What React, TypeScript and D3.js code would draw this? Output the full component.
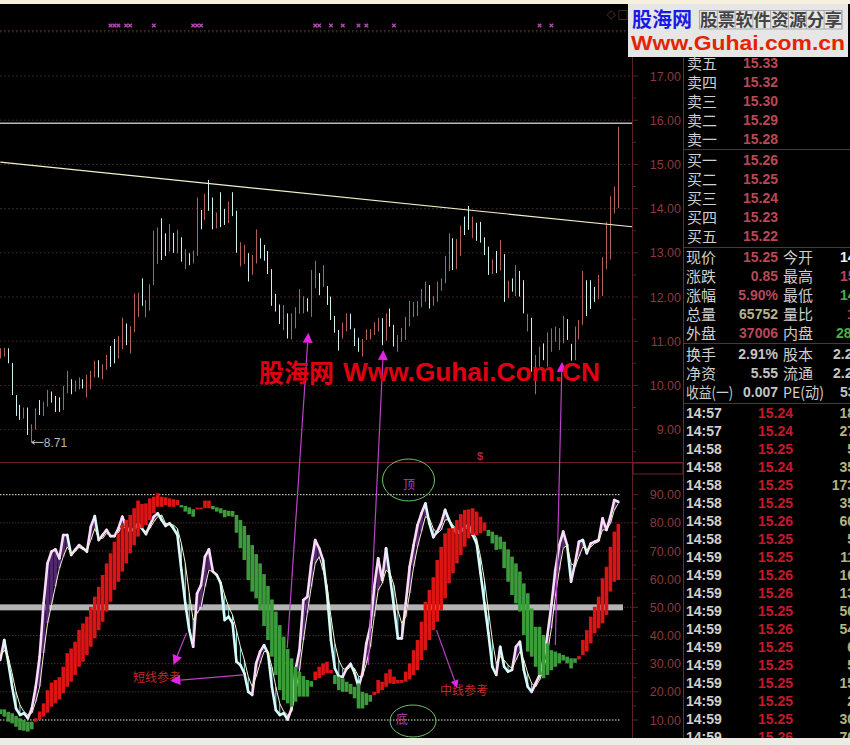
import { useEffect, useRef } from 'react';
import * as d3 from 'd3';

// Price panel, one entry per session
const candleHigh = [
  10.84, 10.85, 10.84, 10.51, 9.78, 9.56, 9.5, 9.5, 9.12, 9.48,
  9.67, 9.63, 9.9, 9.86, 9.76, 9.73, 9.99, 10.33, 10.14, 10.11,
  10.18, 10.14, 10.24, 10.33, 10.56, 10.57, 10.48, 10.69, 10.89, 11.05,
  11.12, 11.53, 11.4, 11.34, 12.08, 12.1, 12.42, 11.93, 12.29, 13.5,
  13.57, 13.78, 13.44, 13.65, 13.45, 13.52, 13.35, 13.08, 12.99, 13.05,
  14.25, 13.97, 14.33, 14.65, 14.25, 13.91, 14.37, 13.99, 14.16, 14.37,
  13.95, 13.24, 13.18, 12.99, 12.95, 13.53, 13.33, 13.18, 13.04, 12.63,
  12.07, 11.83, 11.82, 11.63, 11.63, 11.77, 12.18, 12.02, 11.97, 12.61,
  12.82, 12.54, 12.72, 12.25, 12.01, 11.57, 11.25, 11.42, 11.63, 11.62,
  11.29, 11.08, 11.05, 11.27, 11.27, 11.43, 11.53, 11.52, 11.63, 11.74,
  11.37, 11.14, 11.3, 11.55, 11.91, 11.89, 11.91, 12.18, 12.35, 12.27,
  12.02, 12.35, 12.42, 12.93, 13.44, 13.33, 13.31, 13.61, 13.82, 14.06,
  13.82, 13.68, 13.7, 13.35, 13.14, 12.85, 13.04, 13.29, 12.97, 12.37,
  12.42, 12.72, 12.59, 12.38, 11.62, 11.53, 10.69, 10.88, 10.95, 11.2,
  11.29, 11.33, 11.3, 11.57, 11.5, 10.94, 11.33, 11.48, 12.59, 12.38,
  12.38, 12.23, 12.5, 12.9, 13.7, 14.28, 14.5, 15.85,
];
const candleLow = [
  10.61, 10.65, 10.5, 9.78, 9.31, 9.22, 9.25, 8.88, 8.71, 9.0,
  9.33, 9.31, 9.52, 9.61, 9.4, 9.4, 9.44, 9.82, 9.8, 9.86,
  9.91, 9.93, 9.73, 9.91, 10.18, 10.18, 10.14, 10.35, 10.42, 10.5,
  10.61, 10.82, 10.91, 10.72, 11.2, 11.55, 11.8, 11.54, 11.69, 12.27,
  12.75, 12.84, 12.93, 13.03, 13.0, 12.99, 12.8, 12.63, 12.72, 12.76,
  12.93, 13.53, 13.74, 13.95, 13.53, 13.55, 13.58, 13.63, 13.67, 13.83,
  13.0, 12.69, 12.75, 12.35, 12.5, 12.76, 12.87, 12.82, 12.52, 11.8,
  11.67, 11.39, 11.25, 11.06, 11.04, 11.29, 11.62, 11.63, 11.67, 11.55,
  12.2, 12.04, 12.23, 11.82, 11.48, 11.19, 10.79, 11.06, 11.22, 11.27,
  10.89, 10.76, 10.65, 11.03, 11.04, 11.14, 11.22, 10.91, 11.01, 11.33,
  10.88, 10.76, 10.99, 11.03, 11.34, 11.55, 11.57, 11.77, 11.89, 11.74,
  11.8, 11.89, 12.14, 12.31, 12.59, 12.61, 12.63, 12.93, 13.4, 13.52,
  13.33, 13.27, 13.23, 12.95, 12.5, 12.52, 12.54, 12.6, 11.89, 11.97,
  12.12, 12.02, 12.01, 11.63, 11.22, 10.31, 9.8, 10.42, 10.57, 10.42,
  10.76, 10.99, 10.8, 10.95, 11.03, 10.56, 10.57, 11.04, 11.37, 11.57,
  11.73, 11.89, 11.95, 12.02, 12.63, 12.85, 13.89, 14.01,
];
const candleUp = [
  1, 1, 0, 0, 0, 0, 1, 0, 1, 1, 0, 1, 1, 0, 0, 0, 1, 1, 0, 1,
  1, 0, 1, 1, 1, 0, 1, 1, 0, 0, 1, 1, 0, 1, 1, 1, 0, 1, 1, 1,
  1, 0, 0, 1, 0, 1, 0, 1, 0, 1, 1, 0, 1, 0, 0, 1, 0, 0, 1, 0,
  0, 1, 1, 0, 1, 1, 0, 0, 0, 0, 0, 0, 1, 0, 1, 1, 1, 1, 0, 1,
  1, 0, 1, 0, 0, 0, 0, 1, 1, 0, 0, 0, 1, 1, 1, 1, 1, 0, 1, 0,
  0, 1, 1, 1, 1, 1, 1, 1, 1, 0, 1, 1, 1, 1, 1, 0, 1, 1, 0, 0,
  1, 0, 0, 0, 0, 1, 0, 1, 0, 1, 0, 1, 0, 0, 1, 0, 1, 1, 0, 1,
  1, 1, 1, 1, 0, 0, 1, 1, 1, 0, 0, 0, 1, 1, 1, 1, 1, 1,
];
const signalMarks = [28, 29, 30, 32, 33, 39, 49, 50, 51, 80, 81, 84, 87, 91, 93, 100, 137, 140];
const priceTicks = [17, 16, 15, 14, 13, 12, 11, 10, 9];
const priceMinorTicks = [17.5, 16.5, 15.5, 14.5, 13.5, 12.5, 11.5, 10.5, 9.5, 8.5];
const priceGrid = [18, 17, 16, 15, 14, 13, 12, 11, 10, 9];
const resistanceLevel = 15.93;
const trendLine = [[0, 15.05], [160.5, 13.59]];

// Oscillator panel
const bandTop = [
  13.8, 13.8, 12.9, 12.4, 11.4, 10.6, 10.0, 9.4, 9.4, 10.6,
  13.0, 15.9, 20.6, 23.3, 24.2, 25.2, 28.9, 33.7, 35.4, 37.8,
  42.0, 44.3, 46.7, 50.2, 53.8, 57.3, 61.5, 65.6, 69.2, 73.3,
  76.3, 79.2, 81.0, 82.8, 85.2, 87.9, 86.7, 86.9, 88.7, 89.3,
  90.5, 89.3, 89.1, 88.7, 88.4, 88.1, 86.3, 86.0, 85.5, 84.8,
  85.4, 85.4, 87.9, 87.9, 86.0, 85.5, 85.2, 84.6, 84.3, 84.2,
  82.8, 81.0, 78.9, 75.7, 72.1, 68.9, 65.6, 61.8, 57.6, 52.8,
  48.5, 43.7, 39.6, 35.2, 31.9, 28.9, 27.1, 25.6, 24.2, 23.8,
  27.2, 28.9, 30.1, 30.7, 27.8, 26.0, 25.4, 24.8, 23.6, 22.8,
  21.8, 23.0, 20.0, 19.5, 18.9, 20.0, 24.2, 23.6, 26.6, 28.0,
  25.4, 24.2, 24.2, 27.2, 30.1, 34.8, 38.4, 44.9, 52.0, 56.2,
  60.7, 66.8, 71.5, 76.3, 78.1, 78.1, 81.0, 83.1, 84.6, 84.8,
  85.2, 84.0, 82.2, 80.1, 77.5, 76.9, 75.7, 75.1, 73.3, 70.6,
  68.0, 65.6, 62.7, 58.5, 55.0, 49.6, 43.1, 43.1, 40.2, 37.2,
  34.8, 34.3, 33.7, 33.1, 32.5, 31.9, 31.9, 32.7, 38.4, 41.9,
  46.7, 50.2, 53.8, 60.3, 64.4, 71.5, 76.9, 79.6,
];
const bandBottom = [
  12.1, 11.2, 9.4, 8.8, 7.6, 6.4, 6.2, 5.9, 6.7, 9.4,
  10.0, 11.2, 12.6, 14.7, 15.9, 17.3, 19.5, 21.8, 23.6, 26.0,
  28.9, 30.7, 33.1, 36.0, 39.0, 41.9, 44.9, 48.5, 52.0, 56.2,
  59.1, 62.7, 65.6, 69.2, 72.1, 75.1, 78.1, 79.2, 81.0, 83.4,
  85.7, 85.7, 86.3, 85.7, 85.7, 86.3, 85.5, 84.0, 83.1, 82.2,
  84.8, 84.8, 85.2, 85.2, 84.8, 84.0, 83.4, 82.0, 82.4, 82.2,
  76.5, 71.0, 66.8, 59.7, 55.6, 53.2, 49.0, 43.4, 38.4, 32.5,
  26.0, 20.6, 17.1, 15.9, 14.7, 16.5, 18.3, 18.3, 18.3, 21.8,
  24.2, 24.8, 26.0, 26.6, 26.6, 22.8, 20.6, 20.0, 20.0, 19.2,
  17.7, 14.1, 14.1, 15.3, 16.5, 18.9, 19.5, 20.6, 21.8, 23.0,
  22.8, 23.0, 23.2, 23.6, 24.4, 26.0, 27.7, 31.3, 34.8, 38.4,
  41.9, 44.9, 49.0, 53.2, 58.5, 62.1, 65.6, 68.6, 71.5, 74.5,
  75.7, 75.7, 76.3, 77.2, 75.3, 72.7, 70.4, 70.6, 63.9, 59.1,
  54.4, 51.4, 48.5, 40.2, 34.3, 32.5, 28.9, 26.0, 24.8, 26.0,
  27.7, 28.9, 30.1, 31.1, 30.1, 28.3, 30.3, 31.5, 33.1, 34.3,
  37.2, 40.8, 42.5, 44.3, 47.3, 55.6, 59.1, 59.7,
];
const bandRedRuns = [[9, 45], [50, 53], [80, 84], [95, 123], [147, 157]];
const fastLine = [
  31.3, 38.4, 30.7, 21.8, 14.1, 11.8, 12.4, 10.6, 14.1, 21.8,
  32.5, 51.4, 65.6, 69.8, 70.6, 67.4, 75.7, 75.7, 68.6, 70.4,
  72.1, 71.0, 69.8, 78.6, 82.4, 73.9, 75.7, 77.5, 75.3, 75.3,
  78.0, 82.2, 78.6, 76.9, 78.0, 79.8, 78.0, 76.0, 79.2, 82.2,
  83.4, 81.0, 78.9, 79.8, 78.0, 75.7, 63.2, 51.4, 41.9, 36.0,
  55.0, 57.9, 68.0, 70.6, 62.7, 61.5, 58.5, 45.5, 46.7, 44.3,
  30.7, 29.5, 26.6, 20.0, 18.9, 30.1, 34.3, 36.6, 33.7, 21.8,
  13.5, 11.8, 12.4, 10.2, 14.1, 27.8, 34.8, 52.6, 53.8, 65.6,
  73.9, 71.0, 66.8, 55.0, 38.4, 28.3, 25.4, 25.4, 28.3, 29.9,
  26.6, 21.8, 26.6, 37.2, 43.1, 57.3, 67.4, 59.7, 71.0, 60.9,
  50.2, 39.0, 39.0, 51.4, 64.4, 72.1, 79.2, 83.4, 86.9, 79.8,
  74.9, 76.9, 79.8, 84.6, 81.0, 78.0, 76.3, 76.9, 78.6, 79.2,
  75.7, 72.7, 62.1, 51.4, 40.8, 28.9, 26.0, 36.0, 28.9, 27.2,
  27.8, 36.0, 37.8, 27.8, 21.8, 20.0, 23.0, 26.0, 31.3, 40.2,
  50.8, 63.2, 72.1, 76.9, 72.1, 59.1, 65.6, 73.3, 73.9, 69.2,
  72.7, 73.3, 73.9, 81.6, 77.5, 82.2, 88.1, 87.5,
];
const slowLine = [
  32.5, 34.8, 32.5, 26.6, 20.0, 15.3, 13.0, 11.8, 12.4, 16.5,
  21.8, 33.7, 44.3, 50.8, 57.4, 63.8, 68.0, 71.5, 69.2, 69.8,
  71.3, 70.6, 70.1, 73.9, 78.0, 74.5, 74.5, 76.3, 75.3, 75.3,
  76.5, 79.2, 77.7, 76.9, 77.7, 78.6, 78.0, 76.9, 78.0, 80.4,
  82.2, 82.8, 79.8, 79.8, 79.2, 78.0, 72.7, 65.6, 55.0, 45.5,
  47.9, 50.2, 57.3, 63.2, 62.7, 61.5, 59.1, 54.4, 50.2, 47.3,
  41.9, 36.0, 31.3, 25.4, 21.8, 25.4, 30.1, 34.3, 34.3, 28.9,
  21.8, 15.9, 13.0, 11.8, 13.0, 19.5, 27.8, 38.4, 47.9, 57.3,
  65.6, 68.0, 63.2, 57.9, 46.7, 37.2, 31.3, 28.3, 27.8, 28.9,
  28.3, 25.4, 25.4, 30.1, 36.0, 46.7, 56.1, 58.5, 63.2, 62.1,
  57.9, 49.0, 44.3, 46.7, 55.0, 64.4, 71.5, 76.9, 82.2, 81.6,
  78.0, 76.3, 77.5, 81.0, 81.2, 79.2, 77.5, 76.9, 77.7, 78.6,
  76.9, 74.5, 68.0, 59.7, 49.0, 38.4, 30.1, 32.5, 31.3, 29.5,
  28.3, 31.3, 34.3, 31.3, 26.6, 23.0, 21.8, 24.2, 27.8, 33.7,
  42.5, 53.8, 63.2, 71.0, 72.1, 65.6, 64.4, 68.0, 71.5, 70.4,
  71.5, 72.7, 73.3, 77.5, 77.5, 79.8, 84.6, 86.9,
];
const oscTicks = [90, 80, 70, 60, 50, 40, 30, 20, 10];
const oscMinorTicks = [85, 75, 65, 55, 45, 35, 25, 15];

// Arrows: index on the x scale, value on the panel named
const arrows = [
  { from: [47.3, 40.9], to: [44, 29.5], fromPanel: 'osc', toPanel: 'osc', head: 10 },
  { from: [61.7, 26], to: [43.2, 23.9], fromPanel: 'osc', toPanel: 'osc', head: 10 },
  { from: [110.8, 41.9], to: [116.1, 21.3], fromPanel: 'osc', toPanel: 'osc', head: 8 },
  { from: [72.9, 35.6], to: [78.25, 11.19], fromPanel: 'osc', toPanel: 'price', head: 10 },
  { from: [93.5, 29.5], to: [97.3, 10.8], fromPanel: 'osc', toPanel: 'price', head: 10 },
  { from: [141, 36.6], to: [142.7, 10.53], fromPanel: 'osc', toPanel: 'price', head: 10 },
];

// Quote panel
const askLabels = ['卖五', '卖四', '卖三', '卖二', '卖一'];
const askPrices = ['15.33', '15.32', '15.30', '15.29', '15.28'];
const bidLabels = ['买一', '买二', '买三', '买四', '买五'];
const bidPrices = ['15.26', '15.25', '15.24', '15.23', '15.22'];
const statLabels = ['现价', '涨跌', '涨幅', '总量', '外盘'];
const statValues = ['15.25', '0.85', '5.90%', '65752', '37006'];
const statColors = ['#b84858', '#b84858', '#b84858', '#b4b490', '#b84858'];
const statLabels2 = ['今开', '最高', '最低', '量比', '内盘'];
const statValues2 = ['14', '15', '14', '1', '28'];
const statColors2 = ['#f0f0f0', '#b84858', '#48b048', '#b84858', '#48b048'];
const statStarts2 = [840, 840, 840, 847, 836];
const fundLabels = ['换手', '净资', '收益(一)'];
const fundValues = ['2.91%', '5.55', '0.007'];
const fundLabels2 = ['股本', '流通', 'PE(动)'];
const fundValues2 = ['2.2', '2.2', '53'];
const fundStarts2 = [833, 833, 840];
const tickTimes = [
  '14:57', '14:57', '14:58', '14:58', '14:58', '14:58', '14:58', '14:58', '14:59', '14:59',
  '14:59', '14:59', '14:59', '14:59', '14:59', '14:59', '14:59', '14:59', '14:59',
];
const tickPrices = [
  '15.24', '15.24', '15.25', '15.24', '15.25', '15.25', '15.26', '15.25', '15.25', '15.26',
  '15.26', '15.25', '15.26', '15.25', '15.25', '15.25', '15.25', '15.25', '15.26',
];
const tickVolumes = ['18', '27', '5', '35', '173', '35', '60', '5', '11', '16', '13', '50', '54', '6', '5', '15', '2', '30', '70'];
const logoCells = [0, 1, 2, 3, 4, 5, 6, 7, 8];

const SANS = '"Liberation Sans", Arial, sans-serif';
const CJK = '"Noto Sans CJK SC", sans-serif';
const RED = '#e00012';

const App = () => {
  const chartRef = useRef<SVGSVGElement | null>(null);

  useEffect(() => {
    if (!chartRef.current) return;
    const svg = d3.select(chartRef.current);
    svg.selectAll('*').remove();

    const width = 850;
    const height = 745;

    const x = d3.scaleLinear().domain([0, 157]).range([0.3, 618.3]);
    const yPrice = d3.scaleLinear().domain([17, 9]).range([76, 429.6]);
    const yOsc = d3.scaleLinear().domain([90, 10]).range([494.7, 720]);
    const panelY = (panel: string, v: number) => (panel === 'osc' ? yOsc(v) : yPrice(v));
    const crisp = (v: number) => Math.floor(v) + 0.5;

    svg.append('rect').attr('width', width).attr('height', height).attr('fill', '#000');

    // Grid
    priceGrid.forEach(v => {
      svg.append('line').attr('x1', 0).attr('x2', 632).attr('y1', yPrice(v)).attr('y2', yPrice(v))
        .attr('stroke', '#4a2c2c').attr('stroke-dasharray', '1.5 2.5');
    });
    oscTicks.forEach(v => {
      const edge = v === 90 || v === 10;
      svg.append('line').attr('x1', 0).attr('x2', edge ? 620 : 632).attr('y1', yOsc(v)).attr('y2', yOsc(v))
        .attr('stroke', edge ? '#efeecb' : '#4a2c2c').attr('stroke-dasharray', '1.5 1.5');
    });

    // Signal row
    svg.append('line').attr('x1', 0).attr('x2', 632).attr('y1', 30.5).attr('y2', 30.5)
      .attr('stroke', '#4a2c2c').attr('stroke-dasharray', '1.5 2.5');
    svg.append('g').selectAll('path').data(signalMarks).enter().append('path')
      .attr('d', d => `M${x(d) - 1.8},23.7 L${x(d) + 1.8},27.3 M${x(d) + 1.8},23.7 L${x(d) - 1.8},27.3`)
      .attr('stroke', '#b048b0').attr('stroke-width', 1.4).attr('fill', 'none');

    // Candles
    svg.append('g').selectAll('line').data(candleHigh).enter().append('line')
      .attr('x1', (_, i) => crisp(x(i))).attr('x2', (_, i) => crisp(x(i)))
      .attr('y1', d => yPrice(d))
      .attr('y2', (_, i) => yPrice(candleLow[i]))
      .attr('stroke', (_, i) => (candleUp[i] ? '#b4605a' : '#d0f0f0'))
      .attr('stroke-width', 1);

    // Level and trend lines
    svg.append('line').attr('x1', 0).attr('x2', 632).attr('y1', yPrice(resistanceLevel)).attr('y2', yPrice(resistanceLevel))
      .attr('stroke', '#b8b8b8').attr('stroke-width', 1.6);
    svg.append('line')
      .attr('x1', x(trendLine[0][0])).attr('y1', yPrice(trendLine[0][1]))
      .attr('x2', x(trendLine[1][0])).attr('y2', yPrice(trendLine[1][1]))
      .attr('stroke', '#f2f0c8').attr('stroke-width', 1.2);

    // Low marker
    const lowY = yPrice(candleLow[8]);
    svg.append('path').attr('d', `M${x(8)},${lowY} h12 M${x(8) + 3},${lowY - 2} l-3,2 l3,2`)
      .attr('stroke', '#c8c8c8').attr('fill', 'none');
    svg.append('text').attr('x', x(8) + 12).attr('y', lowY + 4.5).text('8.71')
      .attr('fill', '#b8b8b8').attr('font-family', SANS).attr('font-size', 12);

    // Mid line of the oscillator
    svg.append('rect').attr('x', 0).attr('y', yOsc(50) - 3).attr('width', 623).attr('height', 6).attr('fill', '#b4b4b4');

    // Hatching between the fast and slow lines, nearly solid on the purple side
    svg.append('g').selectAll('line').data(fastLine).enter().append('line')
      .attr('x1', (_, i) => x(i)).attr('x2', (_, i) => x(i))
      .attr('y1', d => yOsc(d))
      .attr('y2', (_, i) => yOsc(slowLine[i]))
      .attr('stroke', (d, i) => (d >= slowLine[i] ? '#54266a' : '#8edede'))
      .attr('stroke-width', (d, i) => (d >= slowLine[i] ? 3.6 : 1));

    // Fast line, one segment per session
    const pairs = d3.pairs(fastLine.map((v, i) => ({ v, i })));
    svg.append('g').selectAll('line').data(pairs).enter().append('line')
      .attr('x1', d => x(d[0].i)).attr('y1', d => yOsc(d[0].v))
      .attr('x2', d => x(d[1].i)).attr('y2', d => yOsc(d[1].v))
      .attr('stroke', d => (d[1].v >= slowLine[d[1].i] ? '#f8dcf8' : '#d8fcfc'))
      .attr('stroke-width', 2.6).attr('stroke-linecap', 'round');

    // Slow line
    const slowPath = d3.line<number>().x((_, i) => x(i)).y(d => yOsc(d));
    svg.append('path').attr('d', slowPath(slowLine)).attr('fill', 'none')
      .attr('stroke', '#f4f4c8').attr('stroke-width', 1);

    // Mid-term band goes on top, its gaps let the lines show through
    const isRed = (i: number) => bandRedRuns.some(r => i >= r[0] && i <= r[1]);
    svg.append('g').selectAll('rect').data(bandTop).enter().append('rect')
      .attr('x', (_, i) => x(i) - 1.8)
      .attr('width', 3.6)
      .attr('y', d => yOsc(d))
      .attr('height', (d, i) => yOsc(bandBottom[i]) - yOsc(d))
      .attr('fill', (_, i) => (isRed(i) ? '#dc1414' : '#3c9c3c'));

    // Panel frame
    const frame = '#5c2226';
    svg.append('line').attr('x1', 0).attr('x2', 683).attr('y1', 462.5).attr('y2', 462.5).attr('stroke', '#6a1c24');
    svg.append('line').attr('x1', 632.5).attr('x2', 632.5).attr('y1', 5).attr('y2', 738).attr('stroke', frame);
    svg.append('rect').attr('x', 633).attr('y', 463).attr('width', 50).attr('height', 11)
      .attr('fill', 'none').attr('stroke', '#7a2028');
    svg.append('line').attr('x1', 683.5).attr('x2', 683.5).attr('y1', 57).attr('y2', 738).attr('stroke', '#6a2a2a');

    // Axes
    const drawTicks = (scale: d3.ScaleLinear<number, number>, major: number[], minor: number[]) => {
      major.forEach(v => {
        svg.append('line').attr('x1', 633).attr('x2', 638).attr('y1', scale(v)).attr('y2', scale(v)).attr('stroke', frame);
        svg.append('text').attr('x', 681).attr('y', scale(v) + 4.5).attr('text-anchor', 'end').text(v.toFixed(2))
          .attr('fill', '#8a3a3c').attr('font-family', SANS).attr('font-size', 12.5);
      });
      minor.forEach(v => {
        svg.append('line').attr('x1', 633).attr('x2', 636).attr('y1', scale(v)).attr('y2', scale(v)).attr('stroke', frame);
      });
    };
    drawTicks(yPrice, priceTicks, priceMinorTicks);
    drawTicks(yOsc, oscTicks, oscMinorTicks);

    // Annotation ellipses and notes
    svg.append('ellipse').attr('cx', 408.5).attr('cy', 480).attr('rx', 26).attr('ry', 21)
      .attr('fill', 'none').attr('stroke', '#6cc06c');
    svg.append('ellipse').attr('cx', 413).attr('cy', 721).attr('rx', 23).attr('ry', 16)
      .attr('fill', 'none').attr('stroke', '#6cc06c');
    const note = (t: string, px: number, py: number, fill: string, size = 12) => {
      svg.append('text').attr('x', px).attr('y', py).text(t).attr('fill', fill)
        .attr('font-family', CJK).attr('font-size', size);
    };
    note('顶', 403, 489, '#b040b8');
    note('底', 396, 724, '#b040b8');
    note('短线参考', 133, 682, '#c42828');
    note('中线参考', 440, 695, '#c42828');
    svg.append('text').attr('x', 480).attr('y', 460).attr('text-anchor', 'middle').text('$')
      .attr('fill', '#b02838').attr('font-family', SANS).attr('font-weight', 'bold').attr('font-size', 11);

    // Arrows
    arrows.forEach(a => {
      const x1 = x(a.from[0]);
      const y1 = panelY(a.fromPanel, a.from[1]);
      const x2 = x(a.to[0]);
      const y2 = panelY(a.toPanel, a.to[1]);
      const angle = Math.atan2(y2 - y1, x2 - x1);
      const nx = Math.cos(angle + Math.PI / 2) * a.head * 0.5;
      const ny = Math.sin(angle + Math.PI / 2) * a.head * 0.5;
      const bx = x2 - Math.cos(angle) * a.head;
      const by = y2 - Math.sin(angle) * a.head;
      svg.append('line').attr('x1', x1).attr('y1', y1).attr('x2', bx).attr('y2', by)
        .attr('stroke', '#b844c4').attr('stroke-width', 1.2);
      svg.append('path').attr('d', `M${x2},${y2} L${bx + nx},${by + ny} L${bx - nx},${by - ny} Z`)
        .attr('fill', '#e424e4');
    });

    // Watermark
    svg.append('text').attr('x', 259).attr('y', 382).text('股海网').attr('fill', RED)
      .attr('font-family', CJK).attr('font-weight', 'bold').attr('font-size', 25);
    svg.append('text').attr('x', 343).attr('y', 381).text('Www.Guhai.Com.CN').attr('fill', RED)
      .attr('font-family', SANS).attr('font-weight', 'bold').attr('font-size', 25)
      .attr('textLength', 257).attr('lengthAdjust', 'spacingAndGlyphs');

    // Quote panel
    const label = (t: string, px: number, py: number, fit?: number) => {
      const node = svg.append('text').attr('x', px).attr('y', py + 5.5).text(t).attr('fill', '#cfcfcf')
        .attr('font-family', CJK).attr('font-size', 15);
      if (fit) node.attr('textLength', fit).attr('lengthAdjust', 'spacingAndGlyphs');
    };
    const value = (t: string, px: number, py: number, fill: string, anchor = 'start', size = 14) => {
      svg.append('text').attr('x', px).attr('y', py + 5).text(t).attr('fill', fill)
        .attr('text-anchor', anchor).attr('font-family', SANS).attr('font-weight', 'bold').attr('font-size', size);
    };
    const rowLine = (py: number) => {
      svg.append('line').attr('x1', 683).attr('x2', 850).attr('y1', py).attr('y2', py).attr('stroke', '#6a2a2a');
    };

    const askY = d3.scaleLinear().domain([0, 4]).range([63, 139]);
    askLabels.forEach((t, i) => {
      label(t, 687, askY(i));
      value(askPrices[i], 743, askY(i), '#b84858');
    });
    rowLine(149.5);
    const bidY = d3.scaleLinear().domain([0, 4]).range([160, 236]);
    bidLabels.forEach((t, i) => {
      label(t, 687, bidY(i));
      value(bidPrices[i], 743, bidY(i), '#b84858');
    });
    rowLine(247.5);
    const statY = d3.scaleLinear().domain([0, 4]).range([257, 333]);
    statLabels.forEach((t, i) => {
      label(t, 686, statY(i));
      value(statValues[i], 778, statY(i), statColors[i], 'end');
      label(statLabels2[i], 783, statY(i));
      value(statValues2[i], statStarts2[i], statY(i), statColors2[i]);
    });
    rowLine(343.5);
    const fundY = d3.scaleLinear().domain([0, 2]).range([354, 392]);
    fundLabels.forEach((t, i) => {
      label(t, 686, fundY(i), i === 2 ? 47 : undefined);
      value(fundValues[i], 778, fundY(i), '#c4c4c4', 'end');
      label(fundLabels2[i], 783, fundY(i), i === 2 ? 41 : undefined);
      value(fundValues2[i], fundStarts2[i], fundY(i), '#c4c4c4');
    });
    rowLine(403.5);
    const tickY = d3.scaleLinear().domain([0, 18]).range([413, 737]);
    tickTimes.forEach((t, i) => {
      value(t, 686, tickY(i), '#d0d0d0');
      value(tickPrices[i], 758, tickY(i), '#c4182c');
      value(tickVolumes[i], 855, tickY(i), '#b4b480', 'end');
    });

    // Logo, covers the top of the quote panel
    svg.append('text').attr('x', 611).attr('y', 18).attr('text-anchor', 'middle').text('◇')
      .attr('fill', '#5a3028').attr('font-family', 'DejaVu Sans').attr('font-size', 12);
    svg.append('text').attr('x', 623).attr('y', 18).attr('text-anchor', 'middle').text('□')
      .attr('fill', '#5a3028').attr('font-family', 'DejaVu Sans').attr('font-size', 12);
    svg.append('rect').attr('x', 628).attr('y', 4).attr('width', 220).attr('height', 53).attr('fill', '#e6e6e6');
    svg.append('text').attr('x', 632).attr('y', 27).text('股海网').attr('fill', '#1a1ae6')
      .attr('font-family', CJK).attr('font-weight', 'bold').attr('font-size', 20);
    logoCells.forEach(c => {
      svg.append('line').attr('x1', 699.5 + c * 17.8).attr('x2', 699.5 + c * 17.8).attr('y1', 10).attr('y2', 29)
        .attr('stroke', '#a8a8a8');
    });
    svg.append('rect').attr('x', 699.5).attr('y', 10.5).attr('width', 142.4).attr('height', 18.5)
      .attr('fill', 'none').attr('stroke', '#a8a8a8');
    svg.append('text').attr('x', 700).attr('y', 26).text('股票软件资源分享').attr('fill', '#444')
      .attr('font-family', '"Noto Sans CJK SC", serif').attr('font-weight', 'bold').attr('font-size', 17.5)
      .attr('textLength', 142);
    svg.append('text').attr('x', 631).attr('y', 50).text('Www.Guhai.com.cn').attr('fill', '#e42400')
      .attr('font-family', SANS).attr('font-weight', 'bold').attr('font-size', 21)
      .attr('textLength', 214).attr('lengthAdjust', 'spacingAndGlyphs');

    // Window edges
    svg.append('rect').attr('width', width).attr('height', 4).attr('fill', '#f6f0dc');
    svg.append('rect').attr('y', 738).attr('width', width).attr('height', 7).attr('fill', '#ecece4');
  }, []);

  return (
    <div style={{ position: 'absolute', left: 0, top: 0 }}>
      <svg ref={chartRef} width={850} height={745} style={{ display: 'block' }}></svg>
    </div>
  );
};

export default App;
